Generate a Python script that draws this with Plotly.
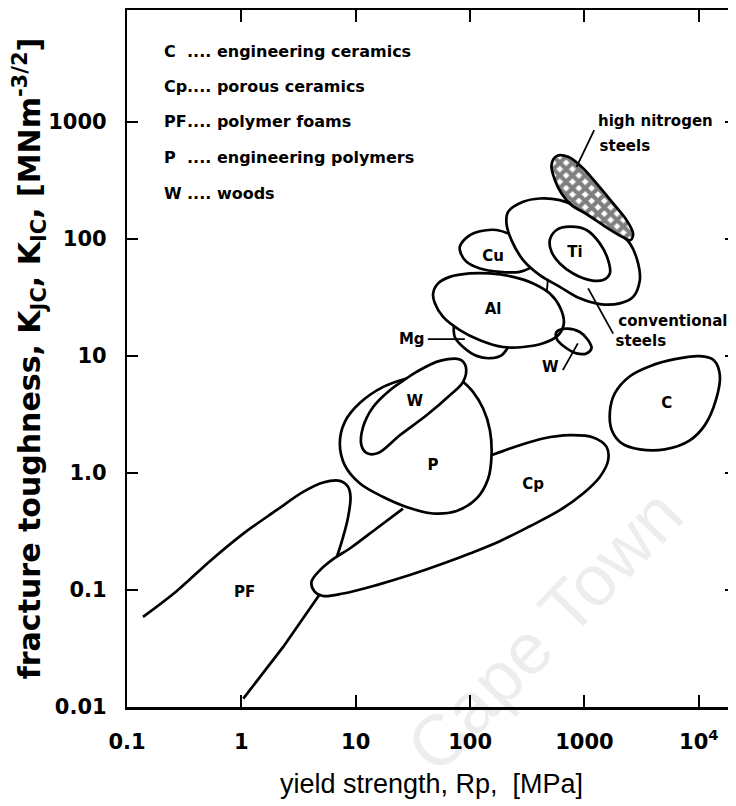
import plotly.graph_objects as go

# ---- material-property field outlines: yield strength Rp [MPa] vs fracture toughness [MN m^-3/2]
hn_steel_x = [570, 720, 942, 1274, 1782, 2333, 2663, 2529, 2178, 1560, 1042, 771, 630, 551, 515, 570]
hn_steel_y = [509, 502, 412, 298, 201, 144.5, 111, 97.5, 103, 125, 163, 194, 244, 318, 427, 509]

conv_steel_x = [215, 291, 407, 609, 853, 1274, 1782, 2494, 2946, 3048, 2663, 2037, 1362, 911, 609, 407, 291, 230, 208, 215]
conv_steel_y = [170, 207, 221, 214, 188, 149, 123, 91.4, 61.6, 44.4, 31.9, 28.1, 27.7, 31.0, 38.9, 48.9, 65.8, 97.5, 135.5, 170]

ti_x = [498, 570, 745, 1042, 1362, 1610, 1667, 1456, 1114, 796, 609, 515, 498]
ti_y = [97.5, 119, 127, 119, 91.4, 65.8, 50.6, 44.4, 44.4, 50.6, 61.6, 77.4, 97.5]

al_x = [47.5, 52.5, 66.5, 99.5, 149, 238, 356, 498, 609, 660, 589, 435, 291, 194, 122, 81.3, 58.1, 49.2, 47.5]
al_y = [34.1, 41.6, 47.3, 50.6, 50.6, 47.3, 41.6, 34.1, 26.2, 18.9, 15.0, 12.8, 11.9, 11.9, 13.6, 16.6, 21.5, 28.1, 34.1]

cu_x = [215, 170, 122, 96.1, 81.3, 83.0, 93.0, 122, 182, 272, 333]
cu_y = [111, 119, 116, 105, 85.5, 75.0, 63.6, 55.8, 52.2, 52.2, 56.2]

mg_x = [72.1, 73.5, 86.9, 114, 149, 188, 215]
mg_y = [18.3, 14.5, 11.9, 10.0, 9.55, 10.1, 11.9]

w_metal_x = [570, 697, 911, 1077, 1153, 1042, 853, 673, 570, 570]
w_metal_y = [16.0, 17.1, 16.0, 13.6, 11.6, 10.5, 10.5, 11.9, 14.1, 16.0]

wood_x = [86.9, 91.8, 81.3, 54.4, 34.0, 27.8, 19.9, 14.2, 11.6, 11.2, 12.6, 15.7, 24.3, 41.6, 66.5, 86.9]
wood_y = [6.0, 8.05, 9.31, 9.06, 7.30, 6.41, 5.09, 3.66, 2.47, 1.73, 1.47, 1.48, 2.10, 3.11, 4.61, 6.0]

polymer_x = [27.8, 17.4, 10.9, 8.03, 7.26, 8.03, 10.9, 17.4, 27.8, 47.5, 76.1, 114, 144, 154, 149, 130, 106, 86.9]
polymer_y = [6.41, 5.43, 3.97, 2.73, 1.78, 1.16, 0.812, 0.623, 0.512, 0.450, 0.473, 0.604, 0.896, 1.42, 2.32, 3.55, 4.92, 6.0]

porous_x = [25.9, 15.2, 8.88, 6.43, 4.85, 4.10, 4.39, 5.19, 7.76, 15.2, 29.7, 58.1, 99.5, 182, 333, 609, 973, 1362, 1610, 1560, 1191, 745, 435, 255, 155]
porous_y = [0.496, 0.335, 0.226, 0.185, 0.147, 0.117, 0.0962, 0.0888, 0.0932, 0.110, 0.134, 0.168, 0.205, 0.261, 0.350, 0.480, 0.667, 0.924, 1.28, 1.67, 2.01, 2.10, 1.97, 1.69, 1.42]

foam_upper_x = [0.138, 0.271, 0.530, 1.04, 2.03, 3.47, 5.19, 7.26, 8.58, 9.00, 8.58, 7.76, 6.87]
foam_upper_y = [0.0588, 0.0975, 0.176, 0.303, 0.480, 0.688, 0.828, 0.855, 0.759, 0.623, 0.421, 0.284, 0.194]

foam_lower_x = [4.78, 2.32, 1.04]
foam_lower_y = [0.0901, 0.0326, 0.0118]

ceramic_x = [2494, 3730, 6166, 10200, 13520, 15270, 14090, 11290, 8340, 5040, 3048, 2123, 1734, 1667, 1845, 2494]
ceramic_y = [6.70, 8.17, 9.37, 9.94, 9.19, 6.84, 4.18, 2.56, 1.90, 1.59, 1.59, 1.79, 2.32, 3.30, 4.80, 6.70]

# leader lines
hn_leader_x, hn_leader_y = [1216, 853], [849, 412]
conv_leader_x, conv_leader_y = [1077, 1782], [37.7, 15.5]
mg_leader_x, mg_leader_y = [42.7, 89.9], [13.9, 13.9]
w_leader_x, w_leader_y = [647, 875], [7.55, 12.8]
neck_x, neck_y = [478, 469], [44.4, 35.7]

# labels
label_text = ["high nitrogen", "steels", "Cu", "Ti", "Al", "Mg", "W", "conventional", "steels",
              "W", "P", "Cp", "C", "PF"]
label_x = [4169, 2254, 159, 824, 159, 30.9, 503, 5929, 3112, 32.9, 47.5, 356, 5250, 1.07]
label_y = [1000, 611, 70.2, 75.5, 24.6, 13.6, 7.80, 19.4, 13.2, 4.04, 1.13, 0.785, 3.87, 0.093]

# key
key_codes = ["C", "Cp", "PF", "P", "W"]
key_names = ["engineering ceramics", "porous ceramics", "polymer foams", "engineering polymers", "woods"]

x_ticks = [0.1, 1, 10, 100, 1000, 10000]
x_ticktext = ["0.1", "1", "10", "100", "1000", "10<sup>4</sup>"]
y_ticks = [0.01, 0.1, 1, 10, 100, 1000]
y_ticktext = ["0.01", "0.1", "1.0", "10", "100", "1000"]

LW = 2.7
fig = go.Figure()


def outline(x, y, name):
    fig.add_trace(go.Scatter(x=x, y=y, mode="lines", name=name, showlegend=False, hoverinfo="skip",
                             line=dict(color="black", width=LW, shape="spline", smoothing=1.0)))


outline(ceramic_x, ceramic_y, "C")
outline(foam_upper_x, foam_upper_y, "PF upper")
fig.add_trace(go.Scatter(x=foam_lower_x, y=foam_lower_y, mode="lines", showlegend=False, hoverinfo="skip",
                         line=dict(color="black", width=LW)))
outline(porous_x, porous_y, "Cp")
outline(polymer_x, polymer_y, "P")
outline(wood_x, wood_y, "W")
outline(mg_x, mg_y, "Mg")
outline(w_metal_x, w_metal_y, "W metals")
outline(al_x, al_y, "Al")
outline(cu_x, cu_y, "Cu")
outline(conv_steel_x, conv_steel_y, "conventional steels")
outline(ti_x, ti_y, "Ti")
fig.add_trace(go.Scatter(x=hn_steel_x, y=hn_steel_y, mode="lines", name="high nitrogen steels",
                         showlegend=False, hoverinfo="skip", fill="toself", fillcolor="white",
                         fillpattern=dict(shape="x", fgcolor="black", bgcolor="white", size=9, solidity=0.72),
                         line=dict(color="black", width=LW, shape="spline", smoothing=1.0)))

for lx, ly in [(hn_leader_x, hn_leader_y), (conv_leader_x, conv_leader_y), (mg_leader_x, mg_leader_y),
               (w_leader_x, w_leader_y), (neck_x, neck_y)]:
    fig.add_trace(go.Scatter(x=lx, y=ly, mode="lines", showlegend=False, hoverinfo="skip",
                             line=dict(color="black", width=1.8)))

fig.add_trace(go.Scatter(x=label_x, y=label_y, mode="text", text=label_text, textposition="middle center",
                         showlegend=False, hoverinfo="skip",
                         textfont=dict(family="DejaVu Sans", size=15, color="black", weight="bold")))

key_y = [0.941, 0.890, 0.840, 0.788, 0.737]
for code, nm, ky in zip(key_codes, key_names, key_y):
    fig.add_annotation(xref="paper", yref="paper", x=0.0575, y=ky, text=code, showarrow=False,
                       xanchor="left", yanchor="middle",
                       font=dict(family="DejaVu Sans", size=16, color="black", weight="bold"))
    fig.add_annotation(xref="paper", yref="paper", x=0.0952, y=ky, text=".... " + nm, showarrow=False,
                       xanchor="left", yanchor="middle",
                       font=dict(family="DejaVu Sans", size=16, color="black", weight="bold"))

# faint scan watermark
fig.add_annotation(xref="paper", yref="paper", x=0.686, y=0.11, text="Cape Town", showarrow=False,
                   xanchor="center", yanchor="middle", textangle=-46,
                   font=dict(family="Liberation Sans", size=72, color="rgba(0,0,0,0.07)"))

tickfont = dict(family="DejaVu Sans", size=21, color="black", weight="bold")
# the page body adds an 8 px offset, so the figure is 8 px narrower/shorter
fig.update_layout(
    width=728, height=798,
    margin=dict(l=119, r=0, t=2, b=99),
    paper_bgcolor="white", plot_bgcolor="white",
    xaxis=dict(type="log", range=[-1, 4.325], tickvals=x_ticks, ticktext=x_ticktext,
               ticks="inside", ticklen=12, tickwidth=1.8, tickcolor="black",
               showline=True, linewidth=2.5, linecolor="black", mirror="ticks",
               showgrid=False, zeroline=False, tickfont=tickfont, ticklabelstandoff=14,
               automargin=False,
               title=dict(text="yield strength, Rp,  [MPa]", standoff=22,
                          font=dict(family="Liberation Sans", size=27, color="black"))),
    yaxis=dict(type="log", range=[-2, 3.955], tickvals=y_ticks, ticktext=y_ticktext,
               ticks="inside", ticklen=11, tickwidth=1.8, tickcolor="black",
               showline=True, linewidth=2.2, linecolor="black", mirror="ticks",
               showgrid=False, zeroline=False, tickfont=tickfont, ticklabelstandoff=14,
               automargin=False,
               title=dict(text="fracture toughness, K<sub>JC</sub>, K<sub>IC</sub>, [MNm<sup>-3/2</sup>]",
                          standoff=2,
                          font=dict(family="DejaVu Sans", size=30, color="black", weight="bold"))),
)

fig.write_html("out.html")
